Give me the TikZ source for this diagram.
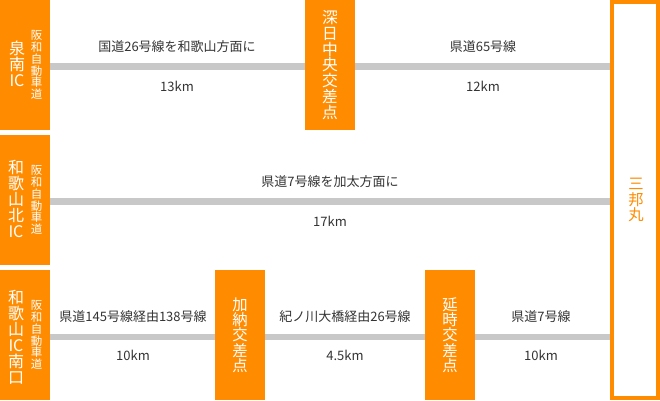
\documentclass[tikz,border=0pt]{standalone}
\usepackage{fontspec}
\setmainfont{Noto Sans CJK JP}
\definecolor{orng}{HTML}{FF8C00}
\definecolor{roadgray}{HTML}{C8C8C8}
\definecolor{txt}{HTML}{333333}
\begin{document}
\begin{tikzpicture}[x=0.75pt,y=-0.75pt,
  icbox/.style={fill=orng,draw=none,inner sep=0pt,outer sep=0pt,minimum width=37.5pt,anchor=north west},
  bigcol/.style={text=white,inner sep=0pt,align=center,font=\fontsize{12}{12}\selectfont},
  smallcol/.style={text=white,inner sep=0pt,align=center,font=\fontsize{8.6}{8.8}\selectfont},
  lbl/.style={text=txt,inner sep=0pt,font=\fontsize{9.75}{11}\selectfont},
  road/.style={draw=roadgray,line width=4.9pt}]
\useasboundingbox (0,0) rectangle (660,400);
% left IC boxes
\node[icbox,minimum height=97.5pt] (izumi) at (0,0) {};
\node[icbox,minimum height=97.5pt] (kita) at (0,135) {};
\node[icbox,minimum height=97.5pt] (minami) at (0,270) {};
\node[bigcol] (izumiA) at (17,63.5) {泉\\南\\IC};
\node[smallcol] (izumiB) at (36.5,65) {阪\\和\\自\\動\\車\\道};
\node[bigcol] (kitaA) at (16,198.5) {和\\歌\\山\\北\\IC};
\node[smallcol] (kitaB) at (36.5,200) {阪\\和\\自\\動\\車\\道};
\node[bigcol] (minamiA) at (16,337.5) {和\\歌\\山\\IC\\南\\口};
\node[smallcol] (minamiB) at (36.5,335) {阪\\和\\自\\動\\車\\道};
% junction boxes
\node[icbox,minimum height=97.5pt] (fuke) at (305,0) {};
\node[bigcol,font=\fontsize{11.8}{11.8}\selectfont] (fukeT) at (330,65) {深\\日\\中\\央\\交\\差\\点};
\node[icbox,minimum height=97.5pt] (kano) at (215,270) {};
\node[bigcol,font=\fontsize{11.5}{11.5}\selectfont] (kanoT) at (240,335) {加\\納\\交\\差\\点};
\node[icbox,minimum height=97.5pt] (nobu) at (425,270) {};
\node[bigcol,font=\fontsize{11.5}{11.5}\selectfont] (nobuT) at (450,335) {延\\時\\交\\差\\点};
% destination
\node[draw=orng,line width=3pt,fill=white,minimum width=34.5pt,minimum height=297pt,inner sep=0pt] (sanbo) at (635,200) {};
\node[text=orng,inner sep=0pt,align=center,font=\fontsize{11.5}{11.5}\selectfont] (sanboT) at (636,200) {三\\邦\\丸};
% road levels
\coordinate (r1) at (0,66.7);
\coordinate (r2) at (0,201.5);
\coordinate (r3) at (0,337);
\draw[road] (izumi.east |- r1) -- (fuke.west |- r1);
\draw[road] (fuke.east |- r1) -- (sanbo.west |- r1);
\draw[road] (kita.east |- r2) -- (sanbo.west |- r2);
\draw[road] (minami.east |- r3) -- (kano.west |- r3);
\draw[road] (kano.east |- r3) -- (nobu.west |- r3);
\draw[road] (nobu.east |- r3) -- (sanbo.west |- r3);
% labels
\node[lbl] (l1a) at (177,46.5) {国道26号線を和歌山方面に};
\node[lbl] (l1b) at (177,86.7) {13km};
\node[lbl] (l2a) at (483,46.5) {県道65号線};
\node[lbl] (l2b) at (483,86.7) {12km};
\node[lbl] (l3a) at (330,181.7) {県道7号線を加太方面に};
\node[lbl] (l3b) at (330,221.7) {17km};
\node[lbl] (l4a) at (133,317) {県道145号線経由138号線};
\node[lbl] (l4b) at (133,355) {10km};
\node[lbl] (l5a) at (345,317) {紀ノ川大橋経由26号線};
\node[lbl] (l5b) at (345,355) {4.5km};
\node[lbl] (l6a) at (541,317) {県道7号線};
\node[lbl] (l6b) at (541,355) {10km};
\end{tikzpicture}
\end{document}
